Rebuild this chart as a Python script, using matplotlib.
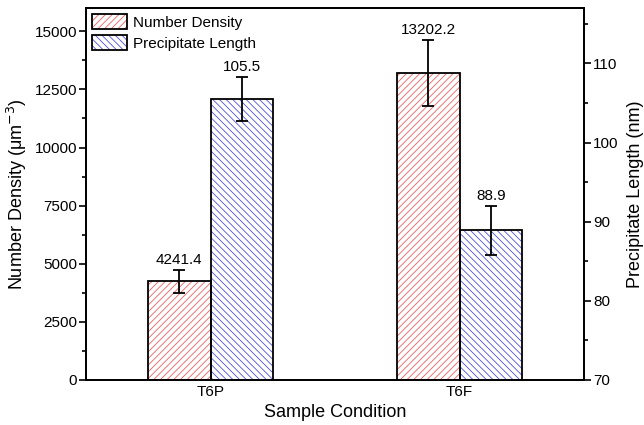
import matplotlib.pyplot as plt
import numpy as np
from matplotlib.patches import Patch
from matplotlib.ticker import MultipleLocator

plt.rcParams['font.family'] = ['Liberation Sans', 'DejaVu Sans']
plt.rcParams['hatch.linewidth'] = 0.6

samples = ["T6P", "T6F"]
density = [4241.4, 13202.2]
density_err = [500, 1420]
length = [105.5, 88.9]
length_err = [2.8, 3.1]

red = "#f06060"
blue = "#5050e0"
w = 0.25
x = np.arange(len(samples))

fig = plt.figure(figsize=(6.44, 4.25), dpi=100)
ax = fig.add_axes([0.1335, 0.106, 0.7735, 0.875])
ax2 = ax.twinx()

# number density bars (left axis)
ax.bar(x - w / 2, density, w, color="none", edgecolor=red, hatch="/////", linewidth=0)
ax.bar(x - w / 2, density, w, fill=False, edgecolor="black", linewidth=1.3)
ax.errorbar(x - w / 2, density, yerr=density_err, fmt="none", ecolor="black",
            elinewidth=1.3, capsize=4, capthick=1.3)
for xi, v, e in zip(x - w / 2, density, density_err):
    ax.text(xi, v + e + 120, f"{v:.1f}", ha="center", va="bottom", fontsize=11)

# precipitate length bars (right axis)
ax2.bar(x + w / 2, length, w, color="none", edgecolor=blue, hatch="\\\\\\\\\\", linewidth=0)
ax2.bar(x + w / 2, length, w, fill=False, edgecolor="black", linewidth=1.3)
ax2.errorbar(x + w / 2, length, yerr=length_err, fmt="none", ecolor="black",
             elinewidth=1.3, capsize=4, capthick=1.3)
for xi, v, e in zip(x + w / 2, length, length_err):
    ax2.text(xi, v + e + 0.35, f"{v:.1f}", ha="center", va="bottom", fontsize=11)

ax.set_xlim(-0.5, 1.5)
ax.set_ylim(0, 16000)
ax2.set_ylim(70, 117)
ax.set_xticks(x)
ax.set_xticklabels(samples)
ax.tick_params(axis="x", length=0, labelsize=11)
ax.yaxis.set_major_locator(MultipleLocator(2500))
ax.yaxis.set_minor_locator(MultipleLocator(1250))
ax2.yaxis.set_major_locator(MultipleLocator(10))
ax2.yaxis.set_minor_locator(MultipleLocator(5))
for a in (ax, ax2):
    a.tick_params(axis="y", which="major", length=5, width=1.2, labelsize=11, pad=1.5)
    a.tick_params(axis="y", which="minor", length=3, width=1.2)
    for s in a.spines.values():
        s.set_linewidth(1.3)

ax.set_xlabel("Sample Condition", fontsize=13)
ax.set_ylabel("Number Density (μm$^{-3}$)", fontsize=13, labelpad=4)
ax2.set_ylabel("Precipitate Length (nm)", fontsize=13, labelpad=6)

h1 = (Patch(facecolor="none", edgecolor=red, hatch="/////", linewidth=0),
      Patch(fill=False, edgecolor="black", linewidth=1.3))
h2 = (Patch(facecolor="none", edgecolor=blue, hatch="\\\\\\\\\\", linewidth=0),
      Patch(fill=False, edgecolor="black", linewidth=1.3))
ax2.legend([h1, h2], ["Number Density", "Precipitate Length"], loc="upper left",
           frameon=False, fontsize=11, handlelength=2.3, handleheight=1.15,
           borderaxespad=0.2, borderpad=0.2, handletextpad=0.4, labelspacing=0.35)

fig.savefig("out.png", dpi=100)
